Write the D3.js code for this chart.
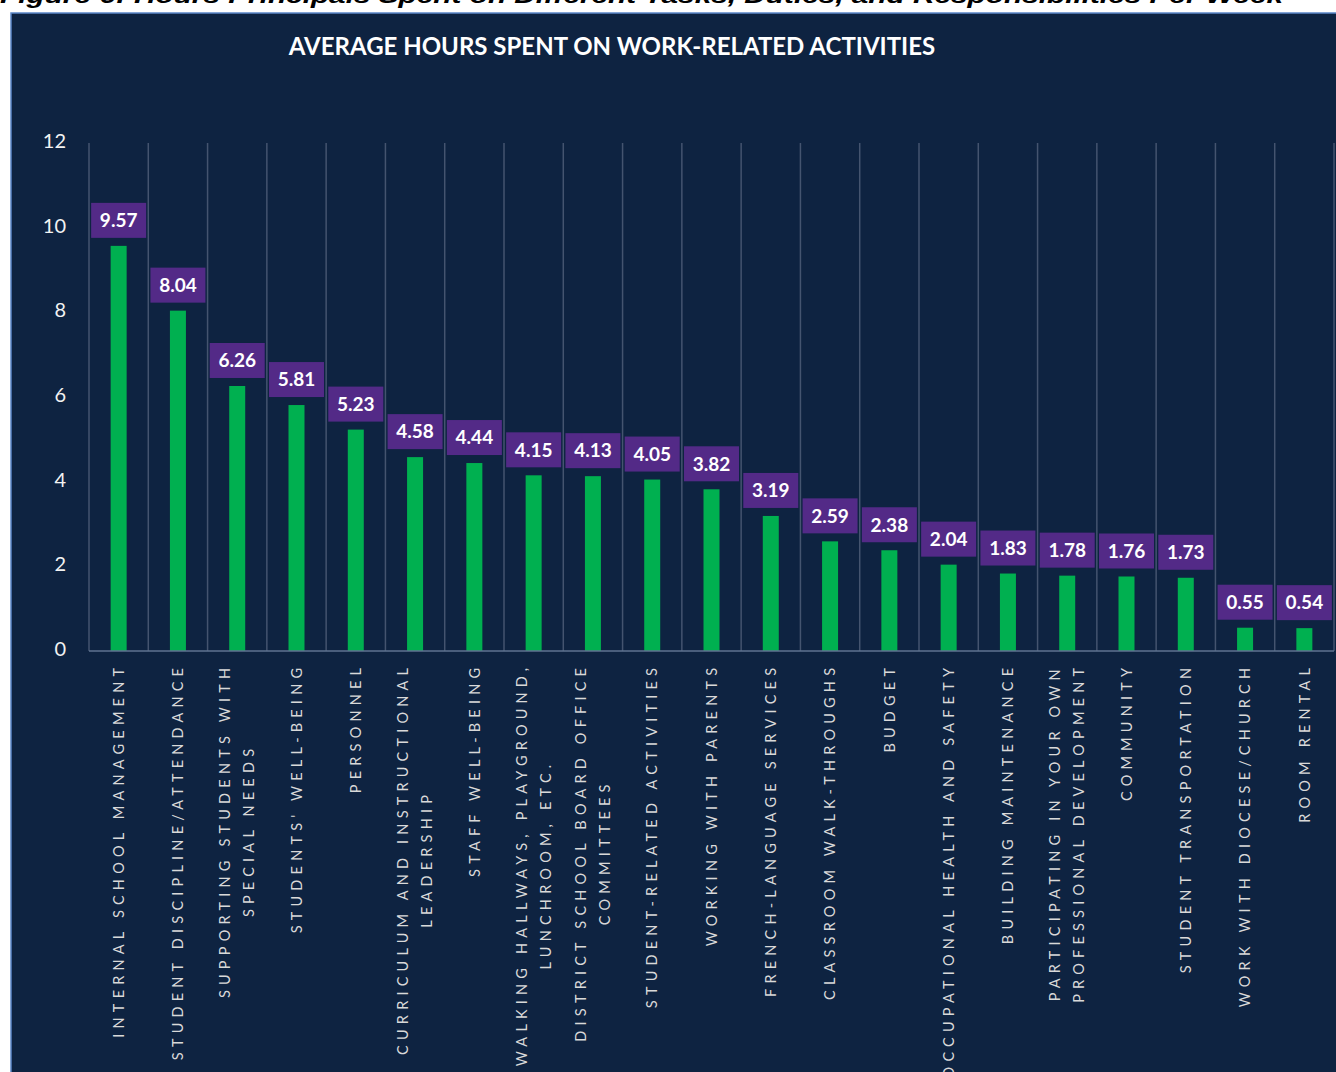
<!DOCTYPE html>
<html>
<head>
<meta charset="utf-8">
<script src="https://cdn.jsdelivr.net/npm/d3@7"></script>
<style>
  body { margin: 0; background: #ffffff; }
  svg { display: block; }
</style>
</head>
<body>
<div id="chart"></div>
<script>
// chart data
const categories = [
  ["INTERNAL SCHOOL MANAGEMENT"],
  ["STUDENT DISCIPLINE/ATTENDANCE"],
  ["SUPPORTING STUDENTS WITH", "SPECIAL NEEDS"],
  ["STUDENTS' WELL-BEING"],
  ["PERSONNEL"],
  ["CURRICULUM AND INSTRUCTIONAL", "LEADERSHIP"],
  ["STAFF WELL-BEING"],
  ["WALKING HALLWAYS, PLAYGROUND,", "LUNCHROOM, ETC."],
  ["DISTRICT SCHOOL BOARD OFFICE", "COMMITTEES"],
  ["STUDENT-RELATED ACTIVITIES"],
  ["WORKING WITH PARENTS"],
  ["FRENCH-LANGUAGE SERVICES"],
  ["CLASSROOM WALK-THROUGHS"],
  ["BUDGET"],
  ["OCCUPATIONAL HEALTH AND SAFETY"],
  ["BUILDING MAINTENANCE"],
  ["PARTICIPATING IN YOUR OWN", "PROFESSIONAL DEVELOPMENT"],
  ["COMMUNITY"],
  ["STUDENT TRANSPORTATION"],
  ["WORK WITH DIOCESE/CHURCH"],
  ["ROOM RENTAL"]
];
const hours = [9.57, 8.04, 6.26, 5.81, 5.23, 4.58, 4.44, 4.15, 4.13, 4.05, 3.82,
               3.19, 2.59, 2.38, 2.04, 1.83, 1.78, 1.76, 1.73, 0.55, 0.54];
const yTicks = [0, 2, 4, 6, 8, 10, 12];

const data = categories.map((c, i) => ({key: i, lines: c, value: hours[i]}));

const W = 1336, H = 1072;
const svg = d3.select("#chart").append("svg")
  .attr("width", W)
  .attr("height", H);

// figure caption, cut off by the top of the picture
svg.append("text")
  .attr("x", 0)
  .attr("y", 3)
  .attr("textLength", 1283)
  .attr("lengthAdjust", "spacingAndGlyphs")
  .style("font-family", "'Liberation Sans', Arial, sans-serif")
  .style("font-weight", "bold")
  .style("font-style", "italic")
  .style("font-size", "22px")
  .style("fill", "#000")
  .text("Figure 6: Hours Principals Spent on Different Tasks, Duties, and Responsibilities Per Week");

// panel
svg.append("rect")
  .attr("x", 11)
  .attr("y", 13)
  .attr("width", W + 10)
  .attr("height", H + 10)
  .attr("fill", "#0e2341")
  .attr("stroke", "#5b86c8")
  .attr("stroke-width", 1.5);

svg.append("text")
  .attr("x", 612)
  .attr("y", 55)
  .attr("text-anchor", "middle")
  .style("font-family", "Lato, 'Open Sans', sans-serif")
  .style("font-weight", "bold")
  .style("font-size", "24px")
  .style("fill", "#ffffff")
  .text("AVERAGE HOURS SPENT ON WORK-RELATED ACTIVITIES");

const plot = {left: 89, right: 1334, top: 143, bottom: 651};

const x = d3.scaleBand()
  .domain(data.map(d => d.key))
  .range([plot.left, plot.right])
  .paddingInner(0)
  .paddingOuter(0);

const y = d3.scaleLinear()
  .domain([0, 12])
  .range([plot.bottom, plot.top]);

// vertical separators between categories
const seps = d3.range(categories.length + 1).map(i => plot.left + i * x.step());
svg.append("g")
  .selectAll("line")
  .data(seps)
  .join("line")
    .attr("x1", d => d)
    .attr("x2", d => d)
    .attr("y1", plot.top)
    .attr("y2", plot.bottom)
    .attr("stroke", "#44546f")
    .attr("stroke-width", 1.5);

// y axis labels
const yAxis = svg.append("g")
  .attr("transform", `translate(${plot.left},-2)`)
  .call(d3.axisLeft(y).tickValues(yTicks).tickSize(0).tickPadding(23));
yAxis.select(".domain").remove();
yAxis.selectAll("text")
  .style("font-family", "Lato, 'Open Sans', sans-serif")
  .style("font-size", "20px")
  .style("fill", "#f2f2f2");

// bars
const barW = 16;
svg.append("g")
  .selectAll("rect")
  .data(data)
  .join("rect")
    .attr("x", d => x(d.key) + x.bandwidth() / 2 - barW / 2)
    .attr("y", d => y(d.value))
    .attr("width", barW)
    .attr("height", d => y(0) - y(d.value))
    .attr("fill", "#00b050");

// baseline
svg.append("line")
  .attr("x1", plot.left)
  .attr("x2", plot.right)
  .attr("y1", plot.bottom)
  .attr("y2", plot.bottom)
  .attr("stroke", "#5f7391")
  .attr("stroke-width", 1.5);

// value boxes
const boxW = 55, boxH = 35, gap = 8;
const vals = svg.append("g")
  .selectAll("g")
  .data(data)
  .join("g")
    .attr("transform", d => `translate(${x(d.key) + x.bandwidth() / 2},${y(d.value) - gap - boxH})`);
vals.append("rect")
  .attr("x", -boxW / 2)
  .attr("width", boxW)
  .attr("height", boxH)
  .attr("fill", "#532a87");
vals.append("text")
  .attr("y", boxH / 2)
  .attr("dy", "0.36em")
  .attr("text-anchor", "middle")
  .style("font-family", "Lato, 'Open Sans', sans-serif")
  .style("font-weight", "bold")
  .style("font-size", "19px")
  .style("fill", "#ffffff")
  .text(d => d.value.toFixed(2));

// category labels, rotated, top aligned under the axis
const labelTop = 668, lineGap = 24, spacing = 5.2;
const labels = svg.append("g")
  .selectAll("g")
  .data(data)
  .join("g");

labels.each(function(d) {
  const g = d3.select(this);
  const cx = x(d.key) + x.bandwidth() / 2;
  const texts = d.lines.map((line, j) => g.append("text")
    .attr("text-anchor", "middle")
    .style("font-family", "Lato, 'Open Sans', sans-serif")
    .style("font-size", "14.5px")
    .style("letter-spacing", spacing + "px")
    .style("fill", "#d9d9d9")
    .text(line));
  const maxLen = d3.max(texts, t => t.node().getComputedTextLength()) - spacing;
  const centerY = labelTop + maxLen / 2;
  texts.forEach((t, j) => {
    const off = (j - (d.lines.length - 1) / 2) * lineGap;
    t.attr("transform", `translate(${cx + off},${centerY}) rotate(-90)`)
      .attr("dy", "0.36em")
      .attr("dx", spacing / 2);
  });
});
</script>
</body>
</html>
